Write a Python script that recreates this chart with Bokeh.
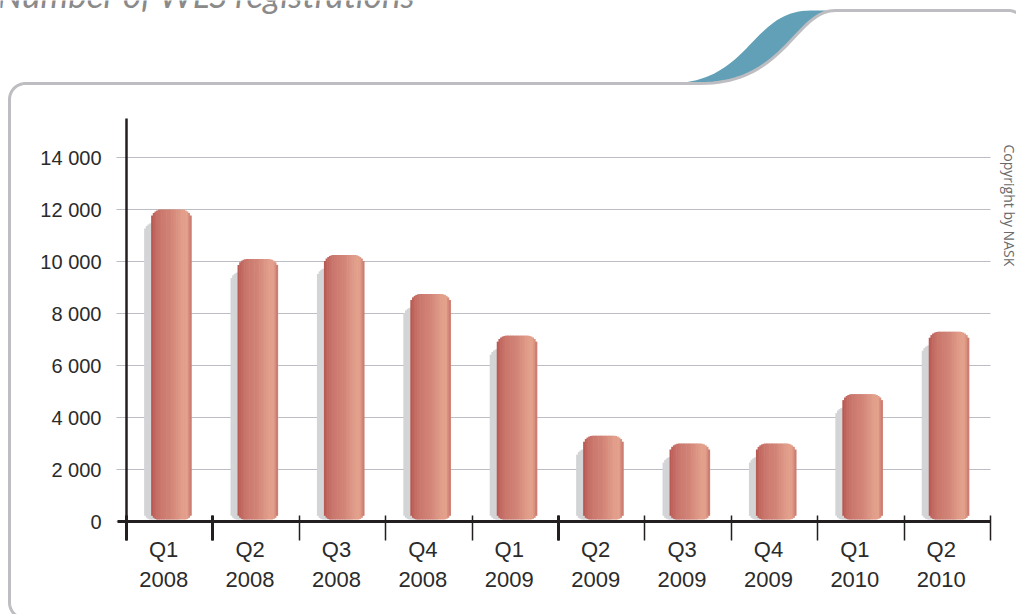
import numpy as np
from bokeh.plotting import figure
from bokeh.models import Range1d, FixedTicker, Label, LinearAxis
from bokeh.embed import file_html
from bokeh.resources import INLINE

# ---------------- data ----------------
quarters = ["Q1", "Q2", "Q3", "Q4", "Q1", "Q2", "Q3", "Q4", "Q1", "Q2"]
years = ["2008", "2008", "2008", "2008", "2009", "2009", "2009", "2009", "2010", "2010"]
registrations = [12000, 10100, 10250, 8750, 7150, 3300, 3000, 3000, 4900, 7300]
y_ticks = [0, 2000, 4000, 6000, 8000, 10000, 12000, 14000]
title_text = "Number of WLS registrations"
credit_text = "Copyright by NASK"

# ---------------- layout (pixels) ----------------
W, H = 1016, 614
AX_L, AX_R, AX_T, AX_B = 126, 990, 118, 521   # chart area edges in pixels
n = len(registrations)
Y_MAX = 15500

xpp = n / (AX_R - AX_L)            # data units per pixel (x)
ypp = Y_MAX / (AX_B - AX_T)        # data units per pixel (y)

p = figure(width=W, height=H, output_backend="svg", toolbar_location=None,
           x_range=Range1d(-AX_L * xpp, (W - AX_L) * xpp),
           y_range=Range1d(-(H - AX_B) * ypp, AX_B * ypp),
           x_axis_location=None, y_axis_location=None,
           min_border=0, background_fill_color="white", border_fill_color="white")
p.outline_line_color = None
p.grid.visible = False
p.extra_x_ranges = {"px": Range1d(0, W)}
p.extra_y_ranges = {"px": Range1d(H, 0)}

# ---------------- decoration (pixel space) ----------------
def bez(p0, p1, p2, p3, k=40):
    out = []
    for t in np.linspace(0, 1, k):
        a, b, c, d = (1 - t) ** 3, 3 * (1 - t) ** 2 * t, 3 * (1 - t) * t ** 2, t ** 3
        out.append((a * p0[0] + b * p1[0] + c * p2[0] + d * p3[0],
                    a * p0[1] + b * p1[1] + c * p2[1] + d * p3[1]))
    return out

def arc(cx, cy, r, a0, a1, k=14):
    return [(cx + r * np.cos(a), cy + r * np.sin(a)) for a in np.linspace(a0, a1, k)]

Lx, T1, T2, Rx, Bx, rr = 9, 83, 10, 1024, 618, 16
curve = bez((700, T1), (785, T1), (795, T2), (835, T2))
upper = bez((668, T1), (750, T1), (750, T2), (810, T2))

blue_pts = upper + [(835, T2)] + curve[::-1]
p.patch([q[0] for q in blue_pts], [q[1] for q in blue_pts], x_range_name="px", y_range_name="px",
        fill_color="#62a0b7", line_color=None)

frame_pts = ([(Lx, Bx - rr)] + arc(Lx + rr, T1 + rr, rr, np.pi, 1.5 * np.pi)
             + curve + arc(Rx - rr, T2 + rr, rr, 1.5 * np.pi, 2 * np.pi)
             + arc(Rx - rr, Bx - rr, rr, 0, 0.5 * np.pi)
             + arc(Lx + rr, Bx - rr, rr, 0.5 * np.pi, np.pi) + [(Lx, Bx - rr)])
p.line([q[0] for q in frame_pts], [q[1] for q in frame_pts], x_range_name="px", y_range_name="px",
       line_color="#bdbdc2", line_width=3, line_join="round")

p.add_layout(Label(x=-3, y=-7, x_range_name="px", y_range_name="px", text=title_text,
                   text_font="Lato", text_font_style="italic", text_font_size="35px",
                   text_color="#8a8a8a", text_baseline="alphabetic", text_align="left"))
p.add_layout(Label(x=1009, y=144, x_range_name="px", y_range_name="px", text=credit_text,
                   angle=-np.pi / 2, text_font="Open Sans", text_font_size="14px",
                   text_color="#6a6a6a", text_baseline="alphabetic", text_align="left"))

# ---------------- grid lines ----------------
p.segment(x0=[-10 * xpp] * len(y_ticks), x1=[n] * len(y_ticks), y0=y_ticks, y1=y_ticks,
          line_color="#bdbdc5", line_width=1)

# ---------------- bars as gradient strips ----------------
grad = [(0.00, "#b3564f"), (0.07, "#bf655d"), (0.22, "#ca766c"),
        (0.50, "#d28477"), (0.78, "#e29e8a"), (0.90, "#e2a08b"), (1.00, "#c8746a")]

def hex2rgb(h):
    return np.array([int(h[i:i + 2], 16) for i in (1, 3, 5)], float)

def grad_color(t):
    for (t0, c0), (t1, c1) in zip(grad[:-1], grad[1:]):
        if t <= t1:
            f = (t - t0) / (t1 - t0) if t1 > t0 else 0
            c = hex2rgb(c0) * (1 - f) + hex2rgb(c1) * f
            return "#%02x%02x%02x" % tuple(int(round(v)) for v in c)
    return grad[-1][1]

BAR_W = 40
R_TOP, R_BOT = 10, 7
NS = 24

def strips(centers, values, dx_px, drop_px, colorfn):
    L, Rr, T, B, C = [], [], [], [], []
    for xc, v in zip(centers, values):
        for i in range(NS):
            u0 = -BAR_W / 2 + i * BAR_W / NS
            u1 = u0 + BAR_W / NS
            um = (u0 + u1) / 2
            d = BAR_W / 2 - abs(um)
            dt = R_TOP - np.sqrt(max(R_TOP ** 2 - (R_TOP - d) ** 2, 0)) if d < R_TOP else 0
            db = R_BOT - np.sqrt(max(R_BOT ** 2 - (R_BOT - d) ** 2, 0)) if d < R_BOT else 0
            L.append(xc + (u0 + dx_px - 0.3) * xpp)
            Rr.append(xc + (u1 + dx_px + 0.3) * xpp)
            T.append(v - (dt + drop_px) * ypp)
            B.append((db + 2) * ypp)
            C.append(colorfn((i + 0.5) / NS))
    return dict(left=L, right=Rr, top=T, bottom=B, color=C)

centers = [i + 0.52 for i in range(n)]
sh = strips(centers, registrations, -7, 13, lambda t: "#d3d4d6")
p.quad(left="left", right="right", top="top", bottom="bottom", fill_color="color",
       line_color=None, source=sh)
br = strips(centers, registrations, 0, 0, grad_color)
p.quad(left="left", right="right", top="top", bottom="bottom", fill_color="color",
       line_color=None, source=br)

# ---------------- axes ----------------
FONT = "Liberation Sans"
label_pos = [i + 0.43 for i in range(n)]
xa = LinearAxis(fixed_location=0, bounds=(-9 * xpp, n))
xa.ticker = FixedTicker(ticks=label_pos, minor_ticks=list(range(n + 1)))
xa.major_label_overrides = {lp: f"{q}\n{y}" for lp, q, y in zip(label_pos, quarters, years)}
xa.major_tick_in = 0
xa.major_tick_out = 0
xa.minor_tick_in = 6
xa.minor_tick_out = 19
xa.minor_tick_line_color = "#231f20"
xa.minor_tick_line_width = 1.5
xa.axis_line_color = "#231f20"
xa.axis_line_width = 3
xa.major_label_standoff = -4
xa.major_label_text_font = FONT
xa.major_label_text_font_size = "22px"
xa.major_label_text_color = "#2b2b2b"
xa.major_label_text_line_height = 1.2
p.add_layout(xa, "below")

# heavier boundary ticks (year-half separators)
xb = LinearAxis(fixed_location=0, bounds=(0, n))
xb.ticker = FixedTicker(ticks=[], minor_ticks=[0, 1, 5])
xb.axis_line_color = None
xb.major_tick_line_color = None
xb.minor_tick_in = 6
xb.minor_tick_out = 19
xb.minor_tick_line_color = "#231f20"
xb.minor_tick_line_width = 3
xb.major_label_text_font_size = "0px"
p.add_layout(xb, "below")

ya = LinearAxis(fixed_location=0, bounds=(0, Y_MAX))
ya.ticker = FixedTicker(ticks=y_ticks, minor_ticks=[])
ya.major_label_overrides = {v: f"{v:,}".replace(",", " ") for v in y_ticks}
ya.major_tick_in = 0
ya.major_tick_out = 10
ya.major_tick_line_color = None
ya.axis_line_color = "#231f20"
ya.axis_line_width = 2.5
ya.major_label_standoff = 15
ya.major_label_text_font = FONT
ya.major_label_text_font_size = "20px"
ya.major_label_text_color = "#2b2b2b"
p.add_layout(ya, "left")

open("out.html", "w").write(file_html(p, INLINE))
